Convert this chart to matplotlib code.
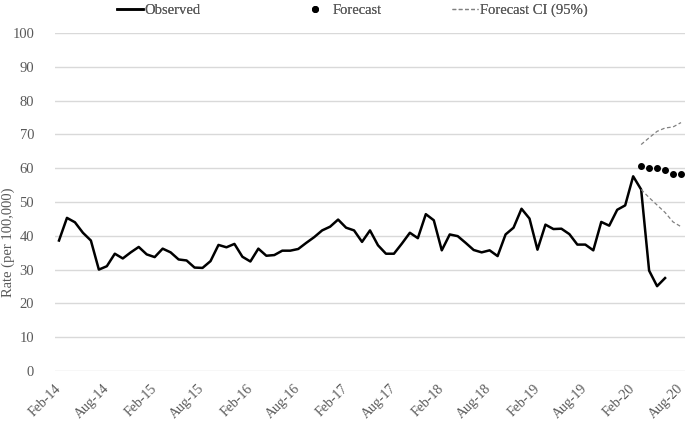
import numpy as np
import pandas as pd
import matplotlib
matplotlib.use('Agg')
import matplotlib.pyplot as plt

# --- monthly rates, Feb-14 .. Aug-20 ---
months = pd.date_range('2014-02-01', '2020-08-01', freq='MS').strftime('%b-%y').tolist()

observed = [38.6, 45.3, 44.0, 40.9, 38.6, 30.0, 31.0, 34.7, 33.3, 35.1, 36.7, 34.5,
            33.7, 36.2, 35.1, 33.0, 32.7, 30.6, 30.5, 32.5, 37.3, 36.6, 37.6, 33.8,
            32.4, 36.2, 34.1, 34.3, 35.6, 35.6, 36.1, 37.9, 39.6, 41.6, 42.7, 44.8,
            42.4, 41.6, 38.2, 41.6, 37.2, 34.7, 34.7, 37.7, 40.9, 39.3, 46.4, 44.6,
            35.7, 40.4, 39.9, 37.9, 35.8, 35.1, 35.7, 34.0, 40.4, 42.4, 48.0, 45.1,
            35.9, 43.3, 42.0, 42.1, 40.5, 37.4, 37.4, 35.7, 44.1, 43.0, 47.7, 49.0,
            57.6, 53.7, 29.7, 25.1, 27.5]

forecast_start = 73  # Mar-20
forecast = [60.7, 60.2, 60.2, 59.5, 58.2, 58.2]
ci_upper = [67.0, 69.0, 70.9, 71.9, 72.2, 73.5]
ci_lower = [53.7, 51.3, 49.1, 46.9, 44.1, 42.7]

tick_pos = list(range(0, len(months), 6))
tick_labels = [months[i] for i in tick_pos]

plt.rcParams['font.family'] = ['Liberation Serif', 'DejaVu Serif']
txt = '#595959'

fig = plt.figure(figsize=(6.85, 4.24), dpi=100)
ax = fig.add_axes([55/685, 53/424, 630/685, 338/424])

x_obs = np.arange(len(observed))
x_fc = np.arange(forecast_start, forecast_start + len(forecast))

h_obs, = ax.plot(x_obs, observed, color='black', lw=1.8, label='Observed')
h_fc, = ax.plot(x_fc, forecast, 'o', color='black', ms=4, label='Forecast')
h_ci, = ax.plot(x_fc, ci_upper, color='#808080', lw=0.9, dashes=(3, 2), label='Forecast CI (95%)')
ax.plot(x_fc, ci_lower, color='#808080', lw=0.9, dashes=(3, 2))

ax.set_xlim(-0.5, len(months) - 0.5)
ax.set_ylim(0, 100)
ax.set_yticks(range(0, 101, 10))
ax.yaxis.grid(True, color='#d9d9d9', lw=1)
ax.set_axisbelow(True)
for s in ax.spines.values():
    s.set_visible(False)

ax.set_xticks(tick_pos)
ax.set_xticklabels(tick_labels, rotation=45, ha='right', va='center', rotation_mode='anchor')
ax.tick_params(axis='both', length=0, labelsize=10.5, colors=txt)
ax.tick_params(axis='y', pad=15)
ax.tick_params(axis='x', pad=11, labelsize=10)

ax.set_ylabel('Rate (per 100,000)', color=txt, fontsize=10.5)
ax.yaxis.set_label_coords(-0.063, 0.38)

# one legend per entry so the three items sit where the original has them
for h, left, tpad in [(h_obs, 111, 0.1), (h_fc, 296, 0.3), (h_ci, 446, 0.1)]:
    leg = fig.legend(handles=[h], loc='upper left', bbox_to_anchor=(left/685, 1.005),
                     frameon=False, handlelength=1.8, handletextpad=tpad, fontsize=10.5,
                     labelcolor=txt, borderaxespad=0)
    fig.add_artist(leg)

fig.savefig('out.png', dpi=100)
